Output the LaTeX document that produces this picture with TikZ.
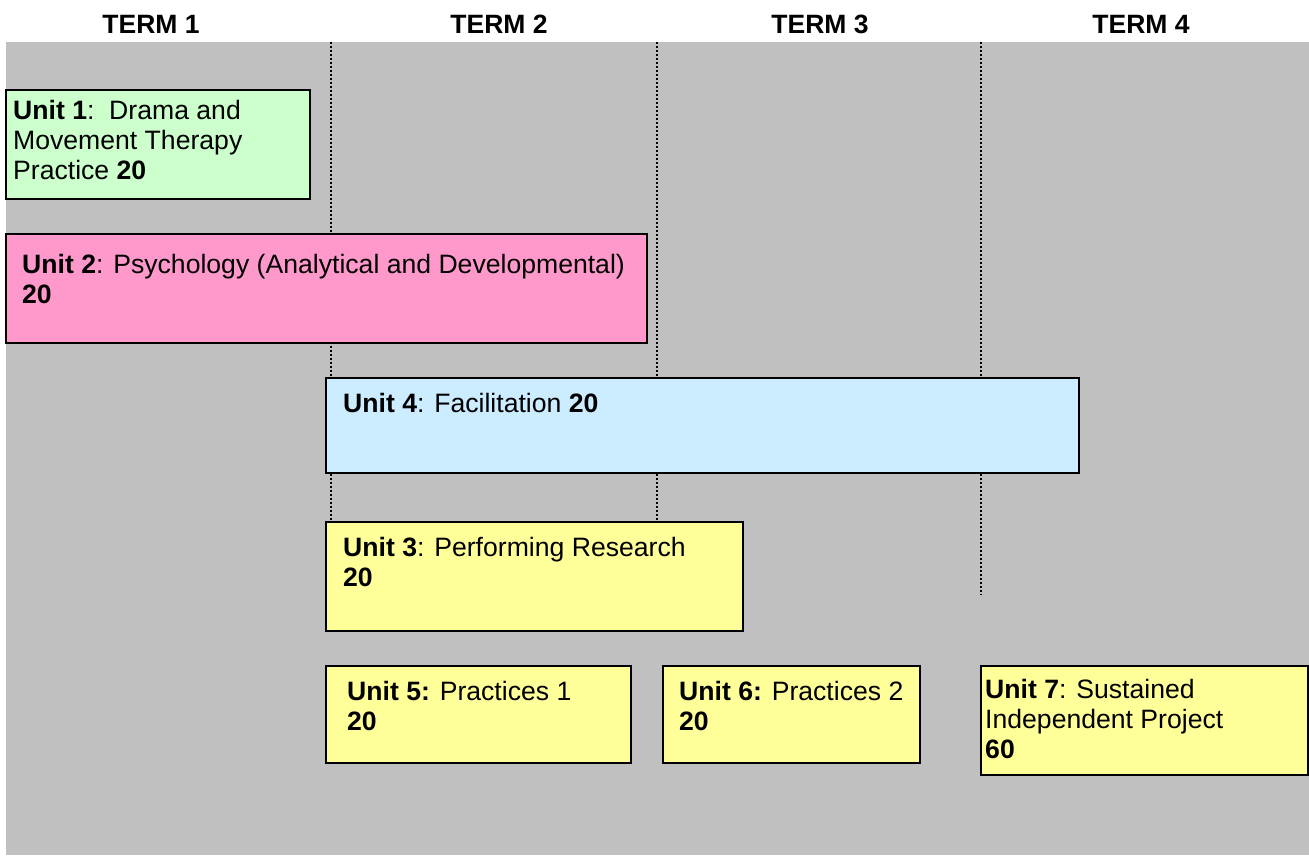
\documentclass[tikz,border=0pt]{standalone}
\usepackage{fontspec}
\setmainfont{Liberation Sans}
\definecolor{bggrey}{HTML}{C0C0C0}
\definecolor{ugreen}{HTML}{CCFFCC}
\definecolor{upink}{HTML}{FF99CC}
\definecolor{ublue}{HTML}{CCECFF}
\definecolor{uyellow}{HTML}{FFFF99}
\tikzset{
  unitbox/.style={draw=black, line width=1.8pt, anchor=north west, inner sep=0pt, outer sep=0pt},
  unittxt/.style={anchor=base west, inner sep=0pt, align=left, font=\fontsize{26.6}{30}\selectfont},
  termhead/.style={anchor=base, inner sep=0pt, font=\fontsize{26.5}{30}\selectfont\bfseries},
  termline/.style={line width=2pt, dash pattern=on 2pt off 2pt}
}
\begin{document}
\begin{tikzpicture}[x=1pt,y=-1pt]
\useasboundingbox (0,0) rectangle (1309,855);
\fill[bggrey] (6,42) rectangle (1309,855);
% term headers
\node[termhead] (t1) at (151,33) {TERM 1};
\node[termhead] (t2) at (499,33) {TERM 2};
\node[termhead] (t3) at (820,33) {TERM 3};
\node[termhead] (t4) at (1141,33) {TERM 4};
% dotted term dividers
\coordinate (l1a) at (331,42); \coordinate (l1b) at (331,522);
\coordinate (l2a) at (657,42); \coordinate (l2b) at (657,522);
\coordinate (l3a) at (981,42); \coordinate (l3b) at (981,595);
\draw[termline] (l1a) -- (l1b);
\draw[termline] (l2a) -- (l2b);
\draw[termline] (l3a) -- (l3b);
% unit boxes
\node[unitbox, fill=ugreen, minimum width=304, minimum height=109] (u1) at (6,90) {};
\node[unitbox, fill=upink, minimum width=641, minimum height=109] (u2) at (6,234) {};
\node[unitbox, fill=ublue, minimum width=753, minimum height=95] (u4) at (326,378) {};
\node[unitbox, fill=uyellow, minimum width=417, minimum height=109] (u3) at (326,522) {};
\node[unitbox, fill=uyellow, minimum width=305, minimum height=97] (u5) at (326,666) {};
\node[unitbox, fill=uyellow, minimum width=257, minimum height=97] (u6) at (663,666) {};
\node[unitbox, fill=uyellow, minimum width=327, minimum height=109] (u7) at (981,666) {};
% unit texts (anchored at the baseline of their last line)
\node[unittxt] (u1t) at (13,179) {\textbf{Unit 1}:\ \ Drama and\\Movement Therapy\\Practice \textbf{20}};
\node[unittxt] (u2t) at (22,303) {\textbf{Unit 2}: Psychology (Analytical and Developmental)\\\textbf{20}};
\node[unittxt] (u4t) at (343,412) {\textbf{Unit 4}: Facilitation \textbf{20}};
\node[unittxt] (u3t) at (343,586) {\textbf{Unit 3}: Performing Research\\\textbf{20}};
\node[unittxt] (u5t) at (347,730) {\textbf{Unit 5:} Practices 1\\\textbf{20}};
\node[unittxt] (u6t) at (679,730) {\textbf{Unit 6:} Practices 2\\\textbf{20}};
\node[unittxt] (u7t) at (985,758) {\textbf{Unit 7}: Sustained\\Independent Project\\\textbf{60}};
\end{tikzpicture}
\end{document}
